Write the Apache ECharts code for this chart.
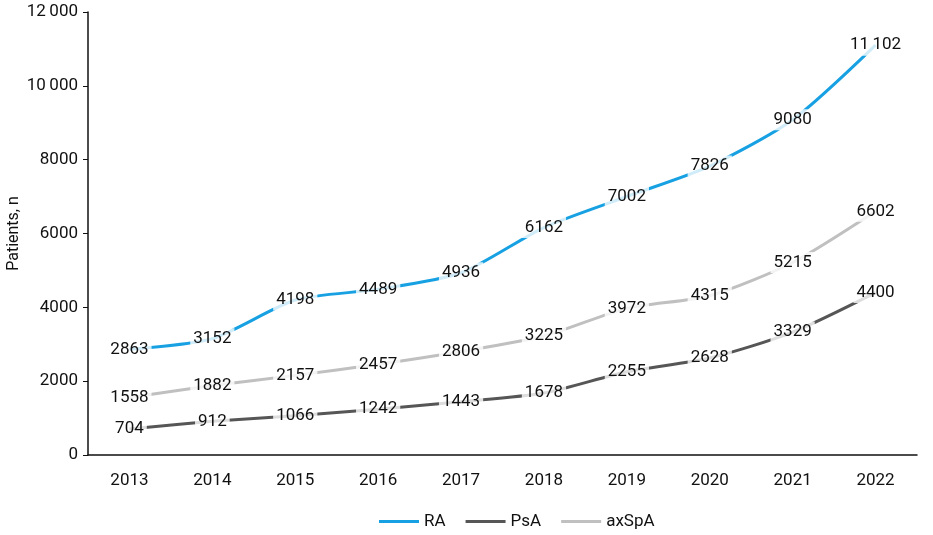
<!DOCTYPE html>
<html>
<head>
<meta charset="utf-8">
<script src="https://cdn.jsdelivr.net/npm/echarts@6/dist/echarts.min.js"></script>
<style>
  html, body { margin: 0; padding: 0; background: #fff; }
  #chart { width: 933px; height: 535px; }
</style>
</head>
<body>
<div id="chart"></div>
<script>
  // data
  var years = ['2013', '2014', '2015', '2016', '2017', '2018', '2019', '2020', '2021', '2022'];
  var raValues = [2863, 3152, 4198, 4489, 4936, 6162, 7002, 7826, 9080, 11102];
  var psaValues = [704, 912, 1066, 1242, 1443, 1678, 2255, 2628, 3329, 4400];
  var axspaValues = [1558, 1882, 2157, 2457, 2806, 3225, 3972, 4315, 5215, 6602];

  var FONT = '"Roboto", sans-serif';

  // 11102 -> "11 102" (thin space only from 10 000 up, as in the picture)
  function fmt (v) {
    v = Math.round(v);
    if (v >= 10000) {
      var s = String(v);
      return s.slice(0, s.length - 3) + '\u2009' + s.slice(s.length - 3);
    }
    return String(v);
  }

  function makeSeries (name, data, color) {
    return {
      name: name,
      type: 'line',
      data: data,
      smooth: 0.25,
      symbol: 'circle',
      symbolSize: 0,
      showSymbol: true,
      lineStyle: { width: 3, color: color },
      itemStyle: { color: color },
      label: {
        show: true,
        position: 'inside',
        formatter: function (p) { return fmt(p.value); },
        color: '#111',
        fontFamily: FONT,
        fontSize: 17,
        backgroundColor: 'rgba(255,255,255,0.8)',
        padding: [2, 3]
      },
      labelLayout: { hideOverlap: false }
    };
  }

  var chart = echarts.init(document.getElementById('chart'));
  chart.setOption({
    animation: false,
    textStyle: { fontFamily: FONT },
    grid: { left: 88, right: 16, top: 12, bottom: 80, containLabel: false, outerBoundsMode: 'none' },
    legend: {
      bottom: 0,
      left: 374,
      itemWidth: 40,
      itemHeight: 3,
      itemGap: 20,
      icon: 'rect',
      textStyle: { fontFamily: FONT, fontSize: 17, color: '#111' },
      data: ['RA', 'PsA', 'axSpA']
    },
    xAxis: {
      type: 'category',
      data: years,
      boundaryGap: true,
      axisLine: { lineStyle: { color: '#111', width: 1.5 } },
      axisTick: { alignWithLabel: true, length: 5, lineStyle: { color: '#111' } },
      axisLabel: { color: '#111', fontSize: 17, margin: 17, fontFamily: FONT }
    },
    yAxis: {
      type: 'value',
      min: 0,
      max: 12000,
      interval: 2000,
      name: 'Patients, n',
      nameLocation: 'middle',
      nameGap: 66,
      nameMoveOverlap: false,
      nameTextStyle: { color: '#111', fontSize: 16, fontFamily: FONT },
      splitLine: { show: false },
      axisLine: { show: true, lineStyle: { color: '#111', width: 1.5 } },
      axisTick: { show: true, length: 5, lineStyle: { color: '#111' } },
      axisLabel: { color: '#111', fontSize: 17, margin: 10, fontFamily: FONT, formatter: fmt }
    },
    series: [
      makeSeries('RA', raValues, '#17a1e2'),
      makeSeries('PsA', psaValues, '#565656'),
      makeSeries('axSpA', axspaValues, '#c0c0c0')
    ]
  });
</script>
</body>
</html>
